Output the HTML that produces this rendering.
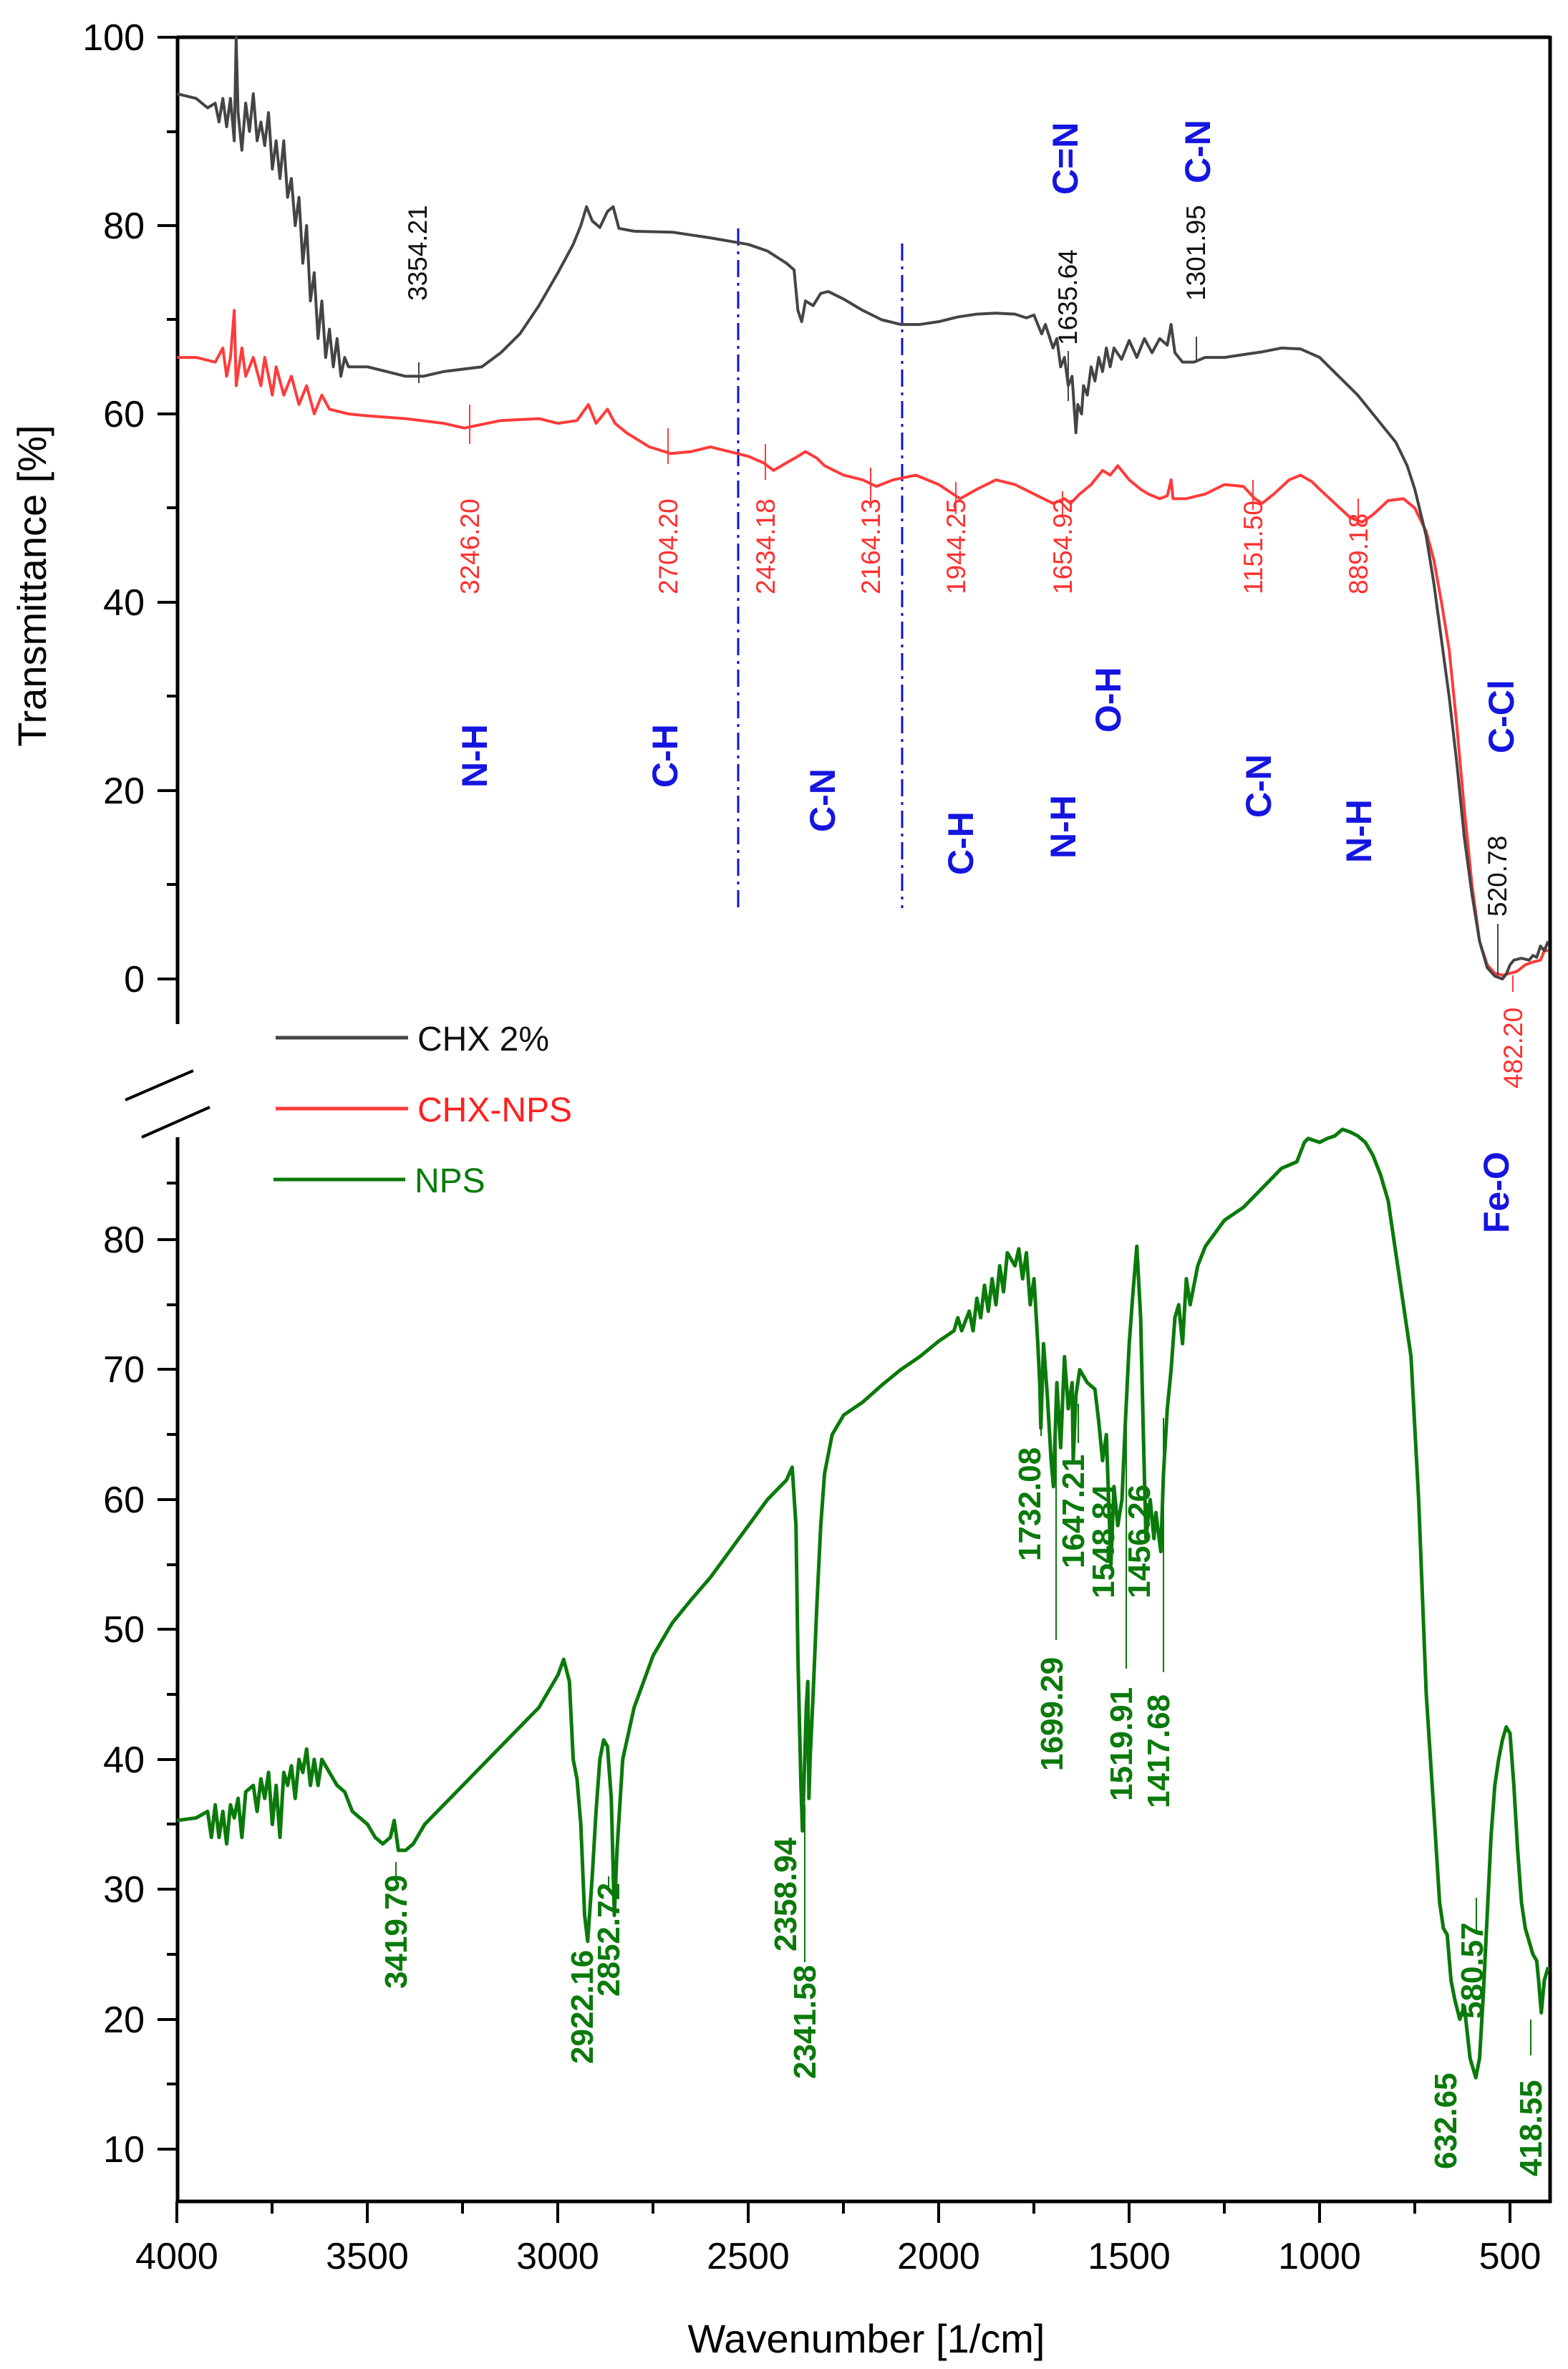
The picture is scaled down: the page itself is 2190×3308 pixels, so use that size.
<!DOCTYPE html>
<html><head><meta charset="utf-8"><style>
html,body{margin:0;padding:0;background:#fff}
svg{display:block}
text{font-family:"Liberation Sans",Arial,sans-serif}
</style></head><body>
<svg width="2190" height="3308" viewBox="0 0 2190 3308" xmlns="http://www.w3.org/2000/svg">
<g stroke="#000" stroke-width="5" fill="none">
<line x1="247" y1="52" x2="2165" y2="52"/>
<line x1="248" y1="50" x2="248" y2="1430"/>
<line x1="248" y1="1588" x2="248" y2="3076"/>
<line x1="2165" y1="50" x2="2165" y2="3076"/>
<line x1="246" y1="3074" x2="2167" y2="3074"/>
</g>
<g stroke="#000" stroke-width="4">
<line x1="220" y1="52" x2="248" y2="52"/><line x1="233" y1="184" x2="248" y2="184"/>
<line x1="220" y1="315" x2="248" y2="315"/><line x1="233" y1="446" x2="248" y2="446"/>
<line x1="220" y1="578" x2="248" y2="578"/><line x1="233" y1="709" x2="248" y2="709"/>
<line x1="220" y1="841" x2="248" y2="841"/><line x1="233" y1="972" x2="248" y2="972"/>
<line x1="220" y1="1104" x2="248" y2="1104"/><line x1="233" y1="1235" x2="248" y2="1235"/>
<line x1="220" y1="1367" x2="248" y2="1367"/>
<line x1="233" y1="1652" x2="248" y2="1652"/><line x1="220" y1="1731" x2="248" y2="1731"/>
<line x1="233" y1="1822" x2="248" y2="1822"/><line x1="220" y1="1912" x2="248" y2="1912"/>
<line x1="233" y1="2003" x2="248" y2="2003"/><line x1="220" y1="2094" x2="248" y2="2094"/>
<line x1="233" y1="2185" x2="248" y2="2185"/><line x1="220" y1="2275" x2="248" y2="2275"/>
<line x1="233" y1="2366" x2="248" y2="2366"/><line x1="220" y1="2457" x2="248" y2="2457"/>
<line x1="233" y1="2547" x2="248" y2="2547"/><line x1="220" y1="2638" x2="248" y2="2638"/>
<line x1="233" y1="2729" x2="248" y2="2729"/><line x1="220" y1="2820" x2="248" y2="2820"/>
<line x1="233" y1="2910" x2="248" y2="2910"/><line x1="220" y1="3001" x2="248" y2="3001"/>
<line x1="247" y1="3074" x2="247" y2="3104"/><line x1="380" y1="3074" x2="380" y2="3091"/>
<line x1="513" y1="3074" x2="513" y2="3104"/><line x1="646" y1="3074" x2="646" y2="3091"/>
<line x1="779" y1="3074" x2="779" y2="3104"/><line x1="912" y1="3074" x2="912" y2="3091"/>
<line x1="1045" y1="3074" x2="1045" y2="3104"/><line x1="1178" y1="3074" x2="1178" y2="3091"/>
<line x1="1311" y1="3074" x2="1311" y2="3104"/><line x1="1444" y1="3074" x2="1444" y2="3091"/>
<line x1="1577" y1="3074" x2="1577" y2="3104"/><line x1="1710" y1="3074" x2="1710" y2="3091"/>
<line x1="1843" y1="3074" x2="1843" y2="3104"/><line x1="1976" y1="3074" x2="1976" y2="3091"/>
<line x1="2109" y1="3074" x2="2109" y2="3104"/>
<line x1="175" y1="1536" x2="270" y2="1495"/>
<line x1="198" y1="1588" x2="293" y2="1546"/>
</g>
<g font-size="52" text-anchor="end">
<text x="202" y="70">100</text><text x="202" y="333">80</text><text x="202" y="596">60</text>
<text x="202" y="859">40</text><text x="202" y="1122">20</text><text x="202" y="1385">0</text>
<text x="202" y="1749">80</text><text x="202" y="1930">70</text><text x="202" y="2112">60</text>
<text x="202" y="2293">50</text><text x="202" y="2475">40</text><text x="202" y="2656">30</text>
<text x="202" y="2838">20</text><text x="202" y="3019">10</text>
</g>
<g font-size="52" text-anchor="middle">
<text x="247" y="3168">4000</text><text x="513" y="3168">3500</text><text x="779" y="3168">3000</text>
<text x="1045" y="3168">2500</text><text x="1311" y="3168">2000</text><text x="1577" y="3168">1500</text>
<text x="1843" y="3168">1000</text><text x="2109" y="3168">500</text>
<text x="1210" y="3285" font-size="56">Wavenumber [1/cm]</text>
<text transform="translate(64,818) rotate(-90)" font-size="56">Transmittance [%]</text>
</g>
<g stroke="#1010d0" stroke-width="3" stroke-dasharray="24,8,4,8">
<line x1="1031" y1="319" x2="1031" y2="1268"/>
<line x1="1260" y1="340" x2="1260" y2="1268"/>
</g>
<g transform="matrix(-0.5319,0,0,-13.15,2375,1367)" fill="none" stroke-linejoin="round">
<polyline vector-effect="non-scaling-stroke" stroke="#ff3b3b" stroke-width="4" points="4000,66 3950,66 3900,65.5 3880,67 3870,64 3860,66 3850,71 3845,63 3830,67 3820,64 3800,66 3780,63 3770,66 3750,62 3740,65 3720,62 3700,64 3680,61 3660,63 3640,60 3620,62 3600,60.5 3550,60 3500,59.8 3400,59.5 3300,59 3246,58.5 3150,59.3 3050,59.5 3000,59 2950,59.3 2920,61 2900,59 2870,60.5 2850,59 2820,58 2760,56.5 2704,55.8 2650,56 2600,56.5 2550,56 2500,55.5 2460,54.8 2434,54 2400,54.8 2370,55.5 2350,56 2320,55.3 2300,54.5 2250,53.5 2200,53 2164,52.3 2120,53 2060,53.5 2000,52.5 1944,51 1900,52 1850,53 1800,52.5 1750,51.5 1700,50.5 1670,51 1654,50.5 1630,51.5 1600,52.5 1570,54 1550,53.5 1530,54.5 1500,53 1470,52 1450,51.5 1420,51 1400,51.3 1390,53 1385,51 1350,51 1300,51.5 1250,52.5 1200,52.3 1170,51 1151,50.5 1120,51.5 1080,53 1050,53.5 1020,52.8 1000,52 960,50.5 920,49 889,48.5 860,49.3 820,50.8 780,51 750,50 720,47.5 700,44.5 680,40 660,35 640,27 620,18 600,10 580,4 560,1.5 540,0.6 520,0.4 500,0.6 482,0.8 460,1.5 440,1.8 420,2 410,3 400,3"/>
<polyline vector-effect="non-scaling-stroke" stroke="#444" stroke-width="4" points="4000,94 3950,93.5 3920,92.5 3900,93 3890,91 3880,93.5 3870,90.5 3860,93.5 3850,89 3845,100 3840,92 3830,88 3820,93 3810,90 3800,94 3790,89 3780,91 3770,88.5 3760,92 3750,86 3740,89 3730,85 3720,89 3710,83 3700,85 3690,80 3680,83 3670,76 3660,80 3650,72 3640,75 3630,68 3620,72 3610,66 3600,69 3590,65 3580,68 3570,64 3560,66 3550,65 3500,65 3450,64.5 3400,64 3354,64 3300,64.5 3200,65 3150,66.5 3100,68.5 3050,71.5 3000,75 2960,78 2940,80 2925,82 2910,80.5 2890,79.8 2870,81.5 2855,82 2840,79.7 2800,79.4 2700,79.3 2600,78.7 2500,78 2450,77.3 2400,76 2380,75.3 2370,71 2360,69.8 2350,72 2330,71.5 2310,72.8 2290,73 2250,72.2 2200,71 2150,70 2100,69.5 2050,69.5 2000,69.8 1950,70.3 1900,70.6 1850,70.7 1800,70.6 1770,70.2 1750,70.5 1730,68.5 1720,69.5 1700,67 1690,68 1680,65 1670,66 1660,63 1650,64 1640,58 1635,61 1625,60 1620,63 1610,62 1600,65 1590,63.5 1580,66 1570,64.5 1560,67 1550,65 1540,67 1520,65.8 1500,67.8 1480,66 1460,68 1440,66.5 1420,68 1400,67.3 1390,69.5 1380,66.5 1360,65.5 1330,65.5 1301,66 1250,66 1200,66.3 1150,66.6 1100,67 1050,66.9 1000,66 950,64 900,62 850,59.5 800,57 770,54.5 750,52 720,47 700,42 680,36 660,30 640,23 620,15 600,9 580,4 560,1.2 540,0.3 520,0 510,0.5 500,1.5 490,2 470,2.2 450,2 440,2.5 430,2.3 420,3.5 410,3 400,4"/>
</g>
<g transform="matrix(-0.5319,0,0,-18.14,2375,3182.4)" fill="none" stroke-linejoin="round">
<polyline vector-effect="non-scaling-stroke" stroke="#0a7a0a" stroke-width="5" points="4000,35.3 3950,35.5 3920,36 3910,34 3900,36.5 3890,34 3880,36 3870,33.5 3860,36.5 3850,35.5 3840,37 3830,34 3820,37.5 3800,38 3790,36 3780,38.5 3770,37 3760,39 3750,35 3740,38 3730,34 3720,39 3710,38 3700,39.5 3690,37 3680,40 3670,39 3660,40.8 3650,38 3640,40 3630,38 3620,40 3600,39 3580,38 3560,37.5 3540,36 3520,35.5 3500,35 3480,34 3460,33.5 3440,34 3430,35.3 3419,33 3400,33 3380,33.5 3350,35 3300,36.5 3250,38 3200,39.5 3150,41 3100,42.5 3050,44 3000,46.5 2985,47.7 2970,46 2960,40 2950,38.5 2940,35 2930,28 2922,26 2910,31 2900,36 2890,40 2880,41.5 2870,41 2860,37 2852,28 2845,33 2830,40 2800,44 2750,48 2700,50.5 2650,52.3 2600,54 2550,56 2500,58 2450,60 2400,61.5 2385,62.5 2375,58 2370,48 2362,38 2358,34.5 2352,40 2348,44 2344,46 2341,37 2338,40 2330,45 2320,52 2310,58 2300,62 2280,65 2250,66.5 2200,67.5 2150,68.8 2100,70 2050,71 2000,72.2 1960,73 1950,74 1940,73 1920,74.5 1910,73 1900,75.5 1890,74 1880,76.5 1870,74.5 1860,77 1850,75 1840,78 1830,76 1820,79 1800,78 1790,79.3 1780,77 1770,79 1760,75 1750,77 1740,72 1735,69 1732,65.5 1725,72 1715,68 1705,63 1699,61 1690,69 1680,64 1670,71 1660,67 1650,69 1647,63 1640,68 1630,70 1610,69 1590,68.5 1580,66 1570,63 1560,65 1548,55 1540,61 1530,58 1519,60 1510,66 1500,72 1490,76 1480,79.5 1470,74 1462,64 1456,57 1445,60 1435,57 1430,59 1417,56 1410,62 1400,67 1390,70 1380,74 1370,75 1360,72 1350,77 1340,75 1320,78 1300,79.5 1250,81.5 1200,82.5 1150,84 1100,85.5 1060,86 1040,87.5 1030,87.8 1000,87.5 980,87.8 960,88 940,88.5 920,88.3 900,88 880,87.5 860,86.5 840,85 820,83 800,79 780,75 760,71 740,60 720,45 700,36 685,29 675,27 665,26.5 655,23 645,21.5 632,20 620,21 605,17 590,15.5 580,17 570,22 560,28 550,34 540,38 530,40 520,41.5 510,42.5 500,42 490,38 480,33 470,29 460,27 450,26 440,25 430,24.5 425,23 418,20.5 410,23 400,24"/>
</g>
<g stroke="#444" stroke-width="2">
<line x1="585" y1="506" x2="585" y2="535"/><line x1="1492" y1="490" x2="1492" y2="560"/>
<line x1="1671" y1="470" x2="1671" y2="505"/><line x1="2092" y1="1290" x2="2092" y2="1362"/>
</g>
<g stroke="#ff3b3b" stroke-width="2">
<line x1="656" y1="565" x2="656" y2="620"/><line x1="933" y1="598" x2="933" y2="648"/>
<line x1="1069" y1="620" x2="1069" y2="670"/><line x1="1216" y1="653" x2="1216" y2="703"/>
<line x1="1335" y1="673" x2="1335" y2="718"/><line x1="1484" y1="686" x2="1484" y2="722"/>
<line x1="1750" y1="670" x2="1750" y2="712"/><line x1="1897" y1="696" x2="1897" y2="734"/>
<line x1="2113" y1="1362" x2="2113" y2="1385"/>
</g>
<g stroke="#0a7a0a" stroke-width="2">
<line x1="553" y1="2600" x2="553" y2="2630"/>
<line x1="850" y1="2640" x2="850" y2="2620"/>
<line x1="1124" y1="2520" x2="1124" y2="2740"/><line x1="1454" y1="1960" x2="1454" y2="2005"/>
<line x1="1475" y1="2000" x2="1475" y2="2290"/><line x1="1506" y1="1960" x2="1506" y2="2015"/>
<line x1="1573" y1="1960" x2="1573" y2="2330"/>
<line x1="1625" y1="1980" x2="1625" y2="2335"/>
<line x1="2062" y1="2700" x2="2062" y2="2650"/>
<line x1="2138" y1="2820" x2="2138" y2="2870"/>
</g>
<g font-size="37" fill="#111">
<text transform="translate(596,420) rotate(-90)">3354.21</text>
<text transform="translate(1504,482) rotate(-90)">1635.64</text>
<text transform="translate(1683,420) rotate(-90)">1301.95</text>
<text transform="translate(2104,1280) rotate(-90)">520.78</text>
</g>
<g font-size="37" fill="#ff3030">
<text transform="translate(669,830) rotate(-90)">3246.20</text>
<text transform="translate(946,830) rotate(-90)">2704.20</text>
<text transform="translate(1082,830) rotate(-90)">2434.18</text>
<text transform="translate(1229,830) rotate(-90)">2164.13</text>
<text transform="translate(1348,830) rotate(-90)">1944.25</text>
<text transform="translate(1497,830) rotate(-90)">1654.92</text>
<text transform="translate(1763,830) rotate(-90)">1151.50</text>
<text transform="translate(1910,830) rotate(-90)">889.18</text>
<text transform="translate(2126,1520) rotate(-90)">482.20</text>
</g>
<g font-size="50" font-weight="bold" fill="#1515e0">
<text transform="translate(680,1100) rotate(-90)">N-H</text>
<text transform="translate(946,1100) rotate(-90)">C-H</text>
<text transform="translate(1166,1162) rotate(-90)">C-N</text>
<text transform="translate(1359,1222) rotate(-90)">C-H</text>
<text transform="translate(1502,1199) rotate(-90)">N-H</text>
<text transform="translate(1565,1023) rotate(-90)">O-H</text>
<text transform="translate(1775,1142) rotate(-90)">C-N</text>
<text transform="translate(1915,1205) rotate(-90)">N-H</text>
<text transform="translate(2114,1052) rotate(-90)">C-Cl</text>
<text transform="translate(1505,272) rotate(-90)">C=N</text>
<text transform="translate(1690,256) rotate(-90)">C-N</text>
<text transform="translate(2107,1722) rotate(-90)">Fe-O</text>
</g>
<g font-size="44" font-weight="bold" fill="#0a7a0a">
<text transform="translate(568,2777) rotate(-90)">3419.79</text>
<text transform="translate(828,2882) rotate(-90)">2922.16</text>
<text transform="translate(865,2788) rotate(-90)">2852.72</text>
<text transform="translate(1112,2725) rotate(-90)">2358.94</text>
<text transform="translate(1139,2903) rotate(-90)">2341.58</text>
<text transform="translate(1453,2180) rotate(-90)">1732.08</text>
<text transform="translate(1484,2473) rotate(-90)">1699.29</text>
<text transform="translate(1514,2190) rotate(-90)">1647.21</text>
<text transform="translate(1556,2232) rotate(-90)">1548.84</text>
<text transform="translate(1581,2515) rotate(-90)">1519.91</text>
<text transform="translate(1606,2232) rotate(-90)">1456.26</text>
<text transform="translate(1633,2525) rotate(-90)">1417.68</text>
<text transform="translate(2034,3029) rotate(-90)">632.65</text>
<text transform="translate(2071,2819) rotate(-90)">580.57</text>
<text transform="translate(2153,3039) rotate(-90)">418.55</text>
</g>
<g stroke-width="5">
<line x1="385" y1="1449" x2="570" y2="1449" stroke="#444"/>
<line x1="385" y1="1548" x2="570" y2="1548" stroke="#ff3b3b"/>
<line x1="382" y1="1647" x2="566" y2="1647" stroke="#0a7a0a"/>
</g>
<g font-size="48">
<text x="583" y="1467" fill="#111">CHX 2%</text>
<text x="583" y="1566" fill="#ff2020">CHX-NPS</text>
<text x="579" y="1665" fill="#0a7a0a">NPS</text>
</g>
</svg>
</body></html>
